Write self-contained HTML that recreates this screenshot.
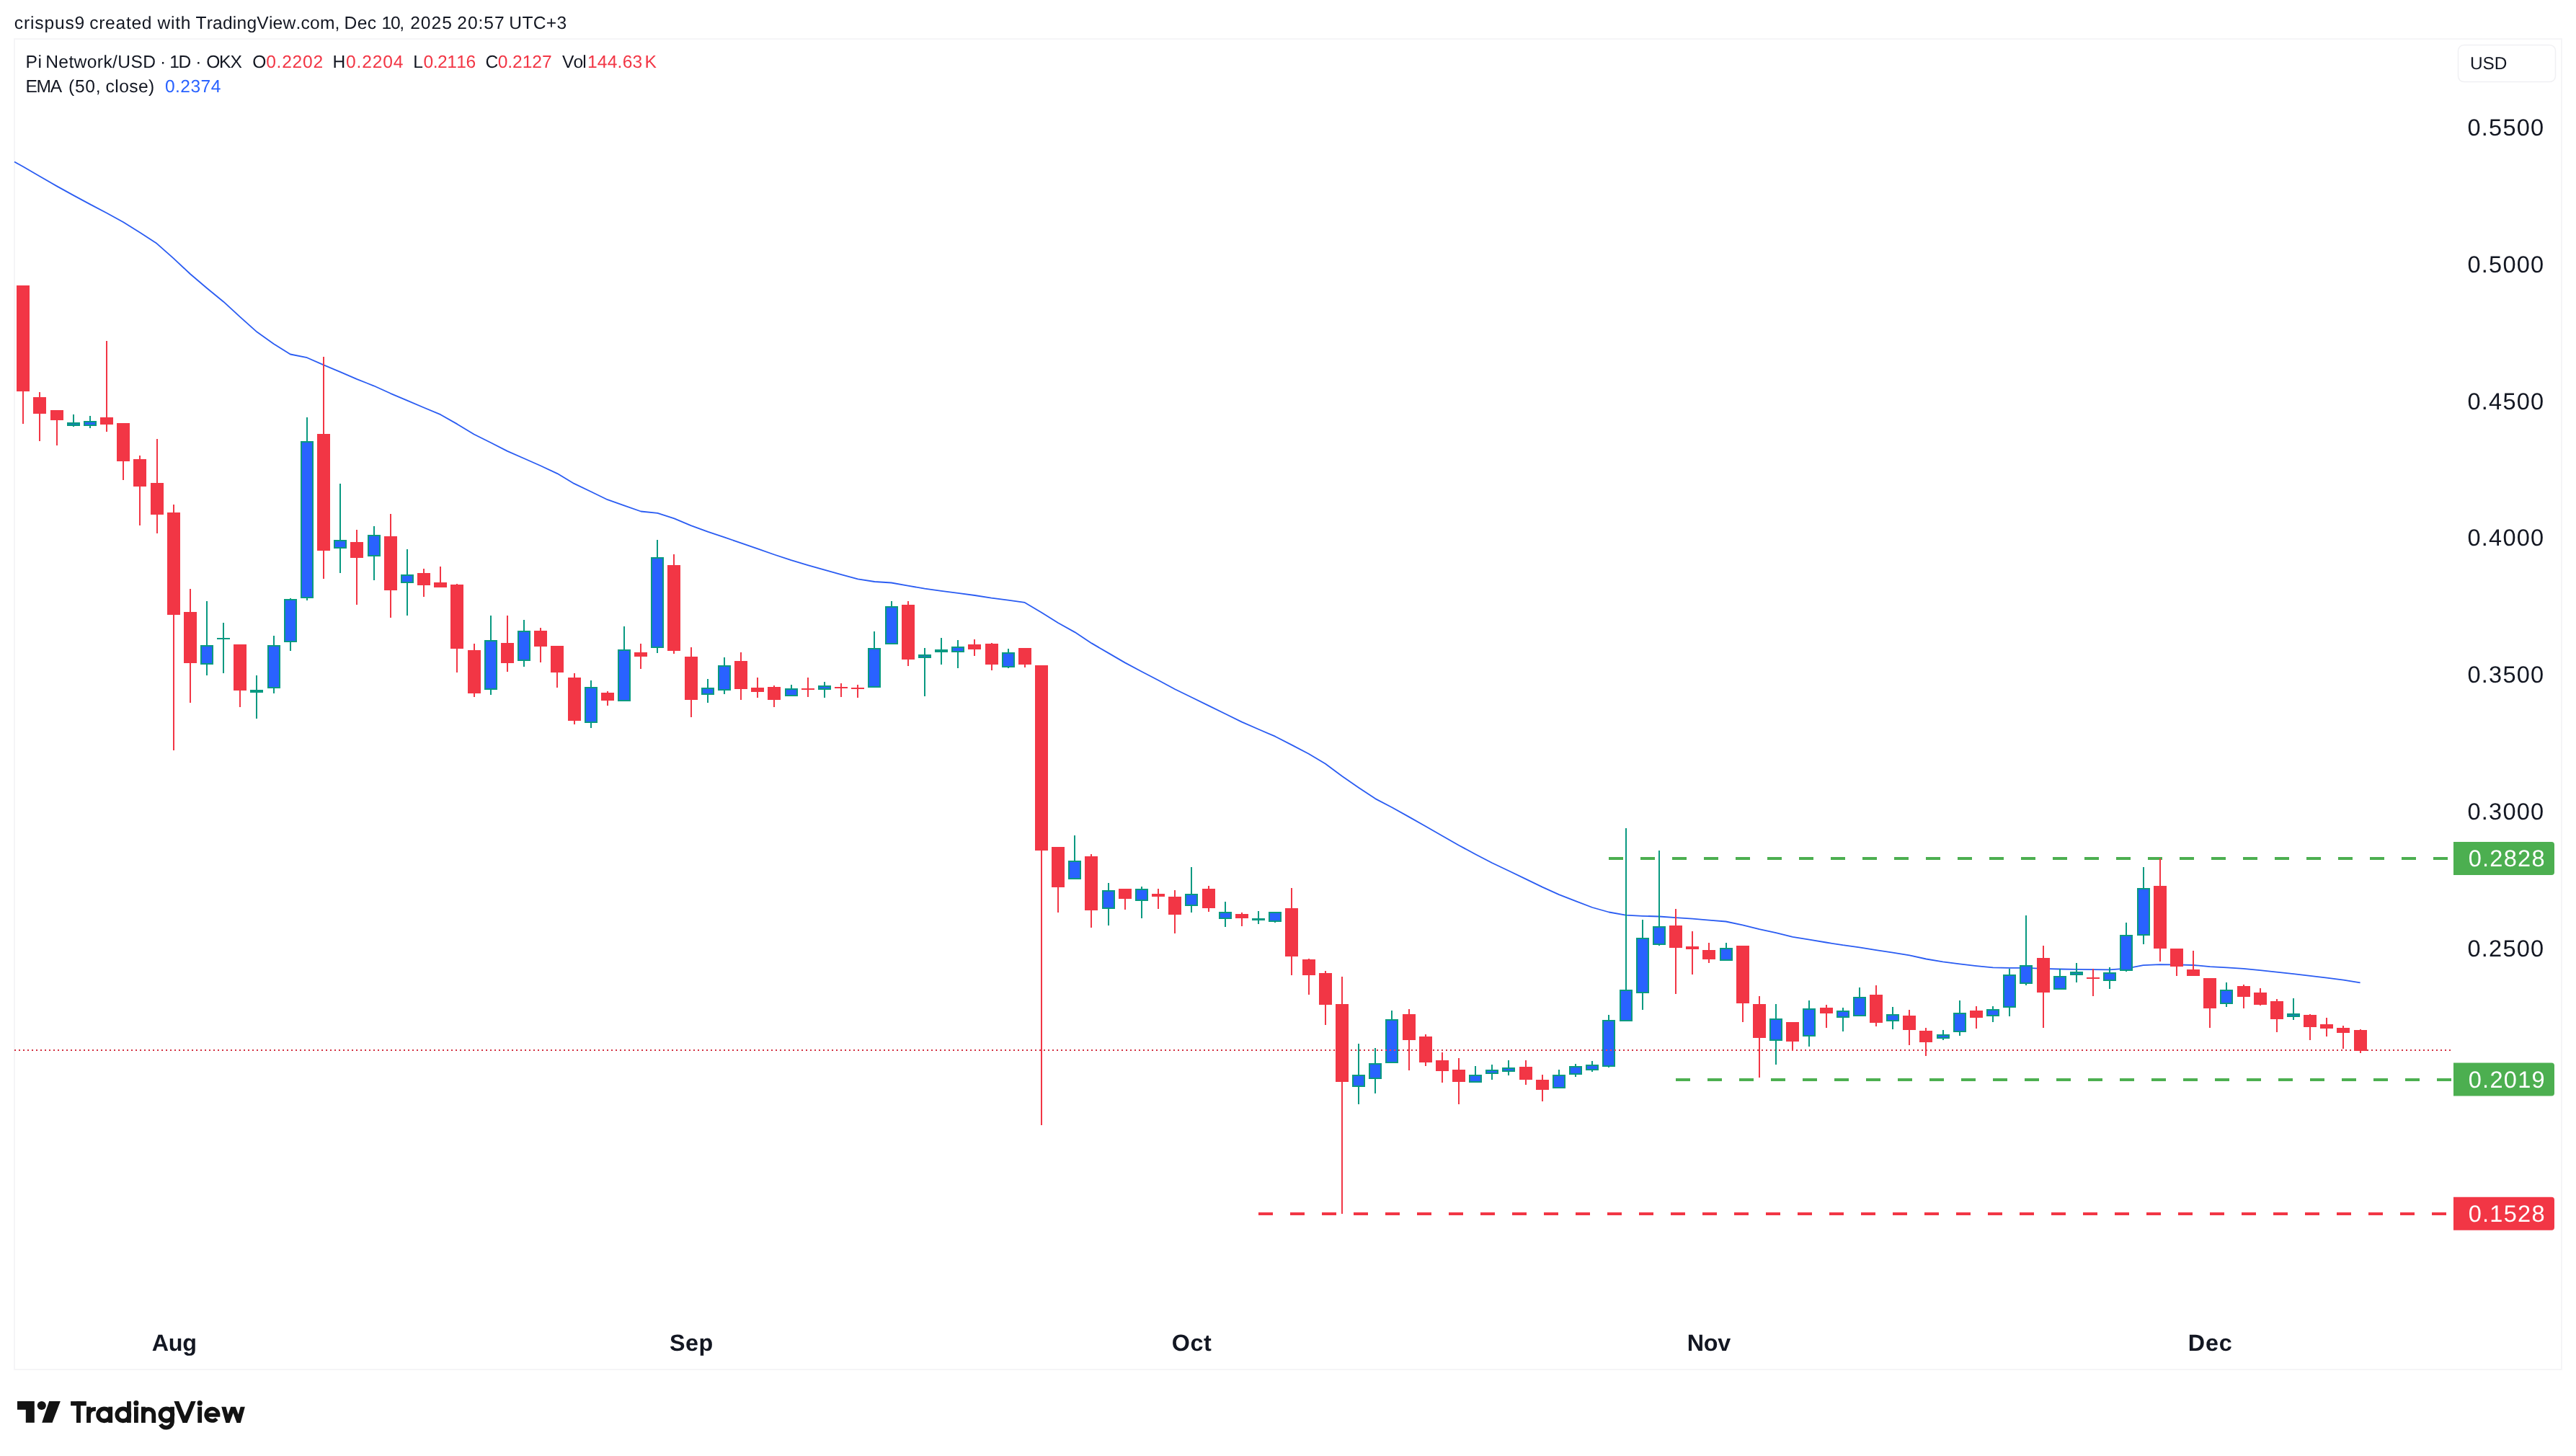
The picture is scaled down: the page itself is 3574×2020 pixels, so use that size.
<!DOCTYPE html>
<html><head><meta charset="utf-8"><title>Pi Network/USD chart</title>
<style>
html,body{margin:0;padding:0;background:#fff;}
body{width:3574px;height:2020px;overflow:hidden;}
svg{display:block;will-change:transform;font-family:"Liberation Sans",sans-serif;font-kerning:none;}
text{white-space:pre;}
.t{opacity:0.999;}
</style></head><body>
<svg width="3574" height="2020" viewBox="0 0 3574 2020" text-rendering="geometricPrecision">
<rect width="3574" height="2020" fill="#ffffff"/>
<rect x="20" y="54" width="3534" height="1846" fill="none" stroke="#f5f5f7" stroke-width="2"/>
<text x="19.85" y="39.70" font-size="24.6" font-weight="400" fill="#131722" letter-spacing="0.830">crispus9</text>
<text x="124.15" y="39.70" font-size="24.6" font-weight="400" fill="#131722" letter-spacing="0.730">created</text>
<text x="218.54" y="39.70" font-size="24.6" font-weight="400" fill="#131722" letter-spacing="0.705">with</text>
<text x="271.45" y="39.70" font-size="24.6" font-weight="400" fill="#131722" letter-spacing="0.213">TradingView.com,</text>
<text x="477.58" y="39.70" font-size="24.6" font-weight="400" fill="#131722" letter-spacing="0.410">Dec</text>
<text x="529.43" y="39.70" font-size="24.6" font-weight="400" fill="#131722" letter-spacing="-1.207">10,</text>
<text x="569.16" y="39.70" font-size="24.6" font-weight="400" fill="#131722" letter-spacing="0.982">2025</text>
<text x="634.36" y="39.70" font-size="24.6" font-weight="400" fill="#131722" letter-spacing="0.929">20:57</text>
<text x="706.30" y="39.70" font-size="24.6" font-weight="400" fill="#131722" letter-spacing="0.319">UTC+3</text>
<text x="35.48" y="94.20" font-size="24.6" font-weight="400" fill="#131722" letter-spacing="0.602">Pi</text>
<text x="63.18" y="94.20" font-size="24.6" font-weight="400" fill="#131722" letter-spacing="0.390">Network/USD</text>
<text x="222.08" y="94.20" font-size="24.6" font-weight="400" fill="#131722" letter-spacing="0.000">·</text>
<text x="235.33" y="94.20" font-size="24.6" font-weight="400" fill="#131722" letter-spacing="-1.496">1D</text>
<text x="271.28" y="94.20" font-size="24.6" font-weight="400" fill="#131722" letter-spacing="0.000">·</text>
<text x="286.13" y="94.20" font-size="24.6" font-weight="400" fill="#131722" letter-spacing="-1.135">OKX</text>
<text x="350.23" y="94.20" font-size="24.6" font-weight="400" fill="#131722" letter-spacing="0.000">O</text>
<text x="369.14" y="94.20" font-size="24.6" font-weight="400" fill="#f23645" letter-spacing="0.751">0.2202</text>
<text x="461.48" y="94.20" font-size="24.6" font-weight="400" fill="#131722" letter-spacing="0.000">H</text>
<text x="479.94" y="94.20" font-size="24.6" font-weight="400" fill="#f23645" letter-spacing="0.848">0.2204</text>
<text x="573.28" y="94.20" font-size="24.6" font-weight="400" fill="#131722" letter-spacing="0.000">L</text>
<text x="587.54" y="94.20" font-size="24.6" font-weight="400" fill="#f23645" letter-spacing="-0.520">0.2116</text>
<text x="673.45" y="94.20" font-size="24.6" font-weight="400" fill="#131722" letter-spacing="0.000">C</text>
<text x="690.74" y="94.20" font-size="24.6" font-weight="400" fill="#f23645" letter-spacing="-0.069">0.2127</text>
<text x="779.89" y="94.20" font-size="24.6" font-weight="400" fill="#131722" letter-spacing="-0.850">Vol</text>
<text x="814.93" y="94.20" font-size="24.6" font-weight="400" fill="#f23645" letter-spacing="0.223">144.63</text>
<text x="894.48" y="94.20" font-size="24.6" font-weight="400" fill="#f23645" letter-spacing="0.000">K</text>
<text x="35.48" y="128.10" font-size="24.6" font-weight="400" fill="#131722" letter-spacing="-1.321">EMA</text>
<text x="94.97" y="128.10" font-size="24.6" font-weight="400" fill="#131722" letter-spacing="0.749">(50,</text>
<text x="146.55" y="128.10" font-size="24.6" font-weight="400" fill="#131722" letter-spacing="0.430">close)</text>
<text x="228.94" y="128.10" font-size="24.6" font-weight="400" fill="#2962ff" letter-spacing="0.448">0.2374</text>
<rect x="3410.5" y="62.5" width="135" height="51" rx="8" fill="none" stroke="#f0f0f3" stroke-width="1.5"/>
<text x="3427.02" y="95.90" font-size="24.4" font-weight="400" fill="#131722" letter-spacing="-0.033">USD</text>
<text x="3423.43" y="188.15" font-size="32.6" font-weight="400" fill="#131722" letter-spacing="1.227">0.5500</text>
<text x="3423.43" y="377.90" font-size="32.6" font-weight="400" fill="#131722" letter-spacing="1.227">0.5000</text>
<text x="3423.43" y="567.65" font-size="32.6" font-weight="400" fill="#131722" letter-spacing="1.227">0.4500</text>
<text x="3423.43" y="757.40" font-size="32.6" font-weight="400" fill="#131722" letter-spacing="1.227">0.4000</text>
<text x="3423.43" y="947.15" font-size="32.6" font-weight="400" fill="#131722" letter-spacing="1.227">0.3500</text>
<text x="3423.43" y="1136.90" font-size="32.6" font-weight="400" fill="#131722" letter-spacing="1.227">0.3000</text>
<text x="3423.43" y="1326.65" font-size="32.6" font-weight="400" fill="#131722" letter-spacing="1.227">0.2500</text>
<line x1="2232" y1="1191" x2="3404" y2="1191" stroke="#4caf50" stroke-width="4" stroke-dasharray="20 24"/>
<line x1="2325" y1="1498" x2="3404" y2="1498" stroke="#4caf50" stroke-width="4" stroke-dasharray="20 24"/>
<line x1="1746" y1="1684" x2="3404" y2="1684" stroke="#f23645" stroke-width="4" stroke-dasharray="20 24"/>
<line x1="20" y1="1457" x2="3400" y2="1457" stroke="#d33041" stroke-width="2" stroke-dasharray="2 4" shape-rendering="crispEdges"/>
<polyline points="20.0,224.5 32.2,231.3 55.4,244.8 78.6,258.1 101.7,270.9 124.9,283.4 148.0,295.5 171.2,308.3 194.4,322.8 217.5,337.8 240.7,358.4 263.8,380.0 287.0,399.7 310.2,418.7 333.3,439.8 356.5,460.6 379.6,477.0 402.8,491.5 426.0,496.2 449.1,506.4 472.3,516.1 495.4,526.1 518.6,535.3 541.8,545.8 564.9,555.6 588.1,565.5 611.2,575.2 634.4,588.4 657.6,602.5 680.7,614.0 703.9,625.9 727.0,636.0 750.2,646.3 773.4,657.1 796.5,670.9 819.7,682.0 842.8,693.2 866.0,701.4 889.2,709.5 912.3,711.9 935.5,719.3 958.6,729.2 981.8,737.7 1005.0,745.4 1028.1,753.4 1051.3,761.4 1074.4,769.5 1097.6,777.1 1120.8,784.1 1143.9,790.6 1167.1,797.1 1190.2,803.4 1213.4,807.0 1236.6,808.5 1259.7,812.7 1282.9,816.6 1306.0,819.8 1329.2,822.9 1352.4,826.0 1375.5,829.6 1398.7,832.6 1421.8,835.9 1445.0,849.7 1468.2,864.3 1491.3,877.1 1514.5,892.4 1537.6,905.9 1560.8,919.4 1584.0,931.7 1607.1,943.8 1630.3,956.3 1653.4,967.5 1676.6,978.9 1699.8,990.3 1722.9,1001.6 1746.1,1011.8 1769.2,1021.7 1792.4,1033.6 1815.6,1045.8 1838.7,1059.5 1861.9,1076.7 1885.0,1092.7 1908.2,1108.1 1931.4,1120.2 1954.5,1133.1 1977.7,1146.3 2000.8,1159.5 2024.0,1172.8 2047.2,1185.2 2070.3,1197.3 2093.5,1208.3 2116.6,1219.4 2139.8,1230.6 2163.0,1241.1 2186.1,1250.2 2209.3,1259.0 2232.4,1265.5 2255.6,1269.7 2278.8,1270.8 2301.9,1271.5 2325.1,1273.1 2348.2,1274.7 2371.4,1276.7 2394.6,1278.5 2417.7,1283.4 2440.9,1289.1 2464.0,1294.2 2487.2,1299.9 2510.4,1303.7 2533.5,1307.5 2556.7,1311.2 2579.8,1314.3 2603.0,1318.1 2626.2,1321.6 2649.3,1325.4 2672.5,1330.5 2695.6,1334.3 2718.8,1337.4 2742.0,1340.1 2765.1,1342.4 2788.3,1342.8 2811.4,1342.9 2834.6,1343.9 2857.8,1344.5 2880.9,1344.8 2904.1,1345.2 2927.2,1345.3 2950.4,1343.6 2973.6,1339.2 2996.7,1338.1 3019.9,1338.4 3043.0,1339.0 3066.2,1341.1 3089.4,1342.3 3112.5,1343.9 3135.7,1346.1 3158.8,1348.7 3182.0,1351.1 3205.2,1353.9 3228.3,1356.7 3251.5,1359.6 3274.6,1363.4" fill="none" stroke="#2a5cf2" stroke-width="1.8" stroke-linejoin="round" shape-rendering="geometricPrecision"/>
<g shape-rendering="crispEdges"><rect x="31" y="396" width="2" height="192" fill="#f23645"/>
<rect x="23" y="396" width="18" height="147" fill="#f23645"/>
<rect x="54" y="544" width="2" height="68" fill="#f23645"/>
<rect x="46" y="551" width="18" height="23" fill="#f23645"/>
<rect x="78" y="569" width="2" height="49" fill="#f23645"/>
<rect x="70" y="569" width="18" height="14" fill="#f23645"/>
<rect x="101" y="575" width="2" height="17" fill="#089981"/>
<rect x="93" y="586" width="18" height="5" fill="#089981"/>
<rect x="95" y="588" width="14" height="1" fill="#2962ff" opacity="0.55"/>
<rect x="124" y="577" width="2" height="17" fill="#089981"/>
<rect x="116" y="584" width="18" height="7" fill="#089981"/>
<rect x="118" y="586" width="14" height="3" fill="#2962ff"/>
<rect x="147" y="473" width="2" height="126" fill="#f23645"/>
<rect x="139" y="579" width="18" height="10" fill="#f23645"/>
<rect x="170" y="587" width="2" height="79" fill="#f23645"/>
<rect x="162" y="587" width="18" height="53" fill="#f23645"/>
<rect x="193" y="632" width="2" height="97" fill="#f23645"/>
<rect x="185" y="637" width="18" height="38" fill="#f23645"/>
<rect x="217" y="609" width="2" height="131" fill="#f23645"/>
<rect x="209" y="670" width="18" height="44" fill="#f23645"/>
<rect x="240" y="700" width="2" height="341" fill="#f23645"/>
<rect x="232" y="711" width="18" height="142" fill="#f23645"/>
<rect x="263" y="817" width="2" height="158" fill="#f23645"/>
<rect x="255" y="849" width="18" height="71" fill="#f23645"/>
<rect x="286" y="834" width="2" height="103" fill="#089981"/>
<rect x="278" y="895" width="18" height="27" fill="#089981"/>
<rect x="280" y="897" width="14" height="23" fill="#2962ff"/>
<rect x="309" y="864" width="2" height="70" fill="#089981"/>
<rect x="301" y="885" width="18" height="2" fill="#089981"/>
<rect x="332" y="894" width="2" height="87" fill="#f23645"/>
<rect x="324" y="894" width="18" height="64" fill="#f23645"/>
<rect x="355" y="937" width="2" height="60" fill="#089981"/>
<rect x="347" y="957" width="18" height="4" fill="#089981"/>
<rect x="379" y="882" width="2" height="80" fill="#089981"/>
<rect x="371" y="895" width="18" height="60" fill="#089981"/>
<rect x="373" y="897" width="14" height="56" fill="#2962ff"/>
<rect x="402" y="830" width="2" height="73" fill="#089981"/>
<rect x="394" y="831" width="18" height="60" fill="#089981"/>
<rect x="396" y="833" width="14" height="56" fill="#2962ff"/>
<rect x="425" y="579" width="2" height="254" fill="#089981"/>
<rect x="417" y="612" width="18" height="218" fill="#089981"/>
<rect x="419" y="614" width="14" height="214" fill="#2962ff"/>
<rect x="448" y="495" width="2" height="308" fill="#f23645"/>
<rect x="440" y="602" width="18" height="162" fill="#f23645"/>
<rect x="471" y="671" width="2" height="124" fill="#089981"/>
<rect x="463" y="749" width="18" height="12" fill="#089981"/>
<rect x="465" y="751" width="14" height="8" fill="#2962ff"/>
<rect x="494" y="735" width="2" height="104" fill="#f23645"/>
<rect x="486" y="752" width="18" height="22" fill="#f23645"/>
<rect x="518" y="730" width="2" height="75" fill="#089981"/>
<rect x="510" y="742" width="18" height="30" fill="#089981"/>
<rect x="512" y="744" width="14" height="26" fill="#2962ff"/>
<rect x="541" y="713" width="2" height="144" fill="#f23645"/>
<rect x="533" y="744" width="18" height="75" fill="#f23645"/>
<rect x="564" y="762" width="2" height="92" fill="#089981"/>
<rect x="556" y="797" width="18" height="12" fill="#089981"/>
<rect x="558" y="799" width="14" height="8" fill="#2962ff"/>
<rect x="587" y="789" width="2" height="39" fill="#f23645"/>
<rect x="579" y="795" width="18" height="17" fill="#f23645"/>
<rect x="610" y="786" width="2" height="29" fill="#f23645"/>
<rect x="602" y="808" width="18" height="7" fill="#f23645"/>
<rect x="633" y="810" width="2" height="123" fill="#f23645"/>
<rect x="625" y="811" width="18" height="89" fill="#f23645"/>
<rect x="657" y="893" width="2" height="74" fill="#f23645"/>
<rect x="649" y="902" width="18" height="60" fill="#f23645"/>
<rect x="680" y="854" width="2" height="110" fill="#089981"/>
<rect x="672" y="888" width="18" height="69" fill="#089981"/>
<rect x="674" y="890" width="14" height="65" fill="#2962ff"/>
<rect x="703" y="854" width="2" height="78" fill="#f23645"/>
<rect x="695" y="892" width="18" height="28" fill="#f23645"/>
<rect x="726" y="860" width="2" height="65" fill="#089981"/>
<rect x="718" y="875" width="18" height="42" fill="#089981"/>
<rect x="720" y="877" width="14" height="38" fill="#2962ff"/>
<rect x="749" y="871" width="2" height="48" fill="#f23645"/>
<rect x="741" y="875" width="18" height="22" fill="#f23645"/>
<rect x="772" y="896" width="2" height="58" fill="#f23645"/>
<rect x="764" y="896" width="18" height="37" fill="#f23645"/>
<rect x="796" y="934" width="2" height="71" fill="#f23645"/>
<rect x="788" y="940" width="18" height="60" fill="#f23645"/>
<rect x="819" y="944" width="2" height="66" fill="#089981"/>
<rect x="811" y="953" width="18" height="50" fill="#089981"/>
<rect x="813" y="955" width="14" height="46" fill="#2962ff"/>
<rect x="842" y="959" width="2" height="20" fill="#f23645"/>
<rect x="834" y="961" width="18" height="11" fill="#f23645"/>
<rect x="865" y="869" width="2" height="104" fill="#089981"/>
<rect x="857" y="901" width="18" height="72" fill="#089981"/>
<rect x="859" y="903" width="14" height="68" fill="#2962ff"/>
<rect x="888" y="893" width="2" height="35" fill="#f23645"/>
<rect x="880" y="905" width="18" height="6" fill="#f23645"/>
<rect x="911" y="749" width="2" height="157" fill="#089981"/>
<rect x="903" y="773" width="18" height="126" fill="#089981"/>
<rect x="905" y="775" width="14" height="122" fill="#2962ff"/>
<rect x="934" y="769" width="2" height="138" fill="#f23645"/>
<rect x="926" y="784" width="18" height="119" fill="#f23645"/>
<rect x="958" y="898" width="2" height="97" fill="#f23645"/>
<rect x="950" y="911" width="18" height="60" fill="#f23645"/>
<rect x="981" y="942" width="2" height="33" fill="#089981"/>
<rect x="973" y="954" width="18" height="10" fill="#089981"/>
<rect x="975" y="956" width="14" height="6" fill="#2962ff"/>
<rect x="1004" y="912" width="2" height="51" fill="#089981"/>
<rect x="996" y="923" width="18" height="35" fill="#089981"/>
<rect x="998" y="925" width="14" height="31" fill="#2962ff"/>
<rect x="1027" y="905" width="2" height="66" fill="#f23645"/>
<rect x="1019" y="917" width="18" height="39" fill="#f23645"/>
<rect x="1050" y="940" width="2" height="28" fill="#f23645"/>
<rect x="1042" y="954" width="18" height="6" fill="#f23645"/>
<rect x="1073" y="951" width="2" height="30" fill="#f23645"/>
<rect x="1065" y="953" width="18" height="18" fill="#f23645"/>
<rect x="1097" y="950" width="2" height="16" fill="#089981"/>
<rect x="1089" y="955" width="18" height="11" fill="#089981"/>
<rect x="1091" y="957" width="14" height="7" fill="#2962ff"/>
<rect x="1120" y="940" width="2" height="27" fill="#f23645"/>
<rect x="1112" y="955" width="18" height="2" fill="#f23645"/>
<rect x="1143" y="946" width="2" height="22" fill="#089981"/>
<rect x="1135" y="951" width="18" height="6" fill="#089981"/>
<rect x="1137" y="953" width="14" height="2" fill="#2962ff"/>
<rect x="1166" y="948" width="2" height="19" fill="#f23645"/>
<rect x="1158" y="953" width="18" height="2" fill="#f23645"/>
<rect x="1189" y="950" width="2" height="18" fill="#f23645"/>
<rect x="1181" y="954" width="18" height="2" fill="#f23645"/>
<rect x="1212" y="876" width="2" height="78" fill="#089981"/>
<rect x="1204" y="899" width="18" height="55" fill="#089981"/>
<rect x="1206" y="901" width="14" height="51" fill="#2962ff"/>
<rect x="1236" y="834" width="2" height="60" fill="#089981"/>
<rect x="1228" y="841" width="18" height="53" fill="#089981"/>
<rect x="1230" y="843" width="14" height="49" fill="#2962ff"/>
<rect x="1259" y="834" width="2" height="90" fill="#f23645"/>
<rect x="1251" y="839" width="18" height="76" fill="#f23645"/>
<rect x="1282" y="899" width="2" height="67" fill="#089981"/>
<rect x="1274" y="908" width="18" height="5" fill="#089981"/>
<rect x="1276" y="910" width="14" height="1" fill="#2962ff" opacity="0.55"/>
<rect x="1305" y="885" width="2" height="37" fill="#089981"/>
<rect x="1297" y="901" width="18" height="4" fill="#089981"/>
<rect x="1328" y="888" width="2" height="39" fill="#089981"/>
<rect x="1320" y="897" width="18" height="8" fill="#089981"/>
<rect x="1322" y="899" width="14" height="4" fill="#2962ff"/>
<rect x="1351" y="887" width="2" height="23" fill="#f23645"/>
<rect x="1343" y="894" width="18" height="7" fill="#f23645"/>
<rect x="1375" y="892" width="2" height="38" fill="#f23645"/>
<rect x="1367" y="893" width="18" height="29" fill="#f23645"/>
<rect x="1398" y="900" width="2" height="27" fill="#089981"/>
<rect x="1390" y="905" width="18" height="21" fill="#089981"/>
<rect x="1392" y="907" width="14" height="17" fill="#2962ff"/>
<rect x="1421" y="899" width="2" height="27" fill="#f23645"/>
<rect x="1413" y="899" width="18" height="23" fill="#f23645"/>
<rect x="1444" y="923" width="2" height="638" fill="#f23645"/>
<rect x="1436" y="923" width="18" height="257" fill="#f23645"/>
<rect x="1467" y="1175" width="2" height="91" fill="#f23645"/>
<rect x="1459" y="1175" width="18" height="56" fill="#f23645"/>
<rect x="1490" y="1159" width="2" height="61" fill="#089981"/>
<rect x="1482" y="1194" width="18" height="26" fill="#089981"/>
<rect x="1484" y="1196" width="14" height="22" fill="#2962ff"/>
<rect x="1513" y="1185" width="2" height="102" fill="#f23645"/>
<rect x="1505" y="1188" width="18" height="75" fill="#f23645"/>
<rect x="1537" y="1225" width="2" height="59" fill="#089981"/>
<rect x="1529" y="1235" width="18" height="26" fill="#089981"/>
<rect x="1531" y="1237" width="14" height="22" fill="#2962ff"/>
<rect x="1560" y="1233" width="2" height="29" fill="#f23645"/>
<rect x="1552" y="1233" width="18" height="14" fill="#f23645"/>
<rect x="1583" y="1230" width="2" height="44" fill="#089981"/>
<rect x="1575" y="1233" width="18" height="17" fill="#089981"/>
<rect x="1577" y="1235" width="14" height="13" fill="#2962ff"/>
<rect x="1606" y="1233" width="2" height="28" fill="#f23645"/>
<rect x="1598" y="1240" width="18" height="4" fill="#f23645"/>
<rect x="1629" y="1235" width="2" height="60" fill="#f23645"/>
<rect x="1621" y="1244" width="18" height="25" fill="#f23645"/>
<rect x="1652" y="1203" width="2" height="63" fill="#089981"/>
<rect x="1644" y="1240" width="18" height="17" fill="#089981"/>
<rect x="1646" y="1242" width="14" height="13" fill="#2962ff"/>
<rect x="1676" y="1229" width="2" height="36" fill="#f23645"/>
<rect x="1668" y="1233" width="18" height="27" fill="#f23645"/>
<rect x="1699" y="1251" width="2" height="35" fill="#089981"/>
<rect x="1691" y="1265" width="18" height="10" fill="#089981"/>
<rect x="1693" y="1267" width="14" height="6" fill="#2962ff"/>
<rect x="1722" y="1266" width="2" height="19" fill="#f23645"/>
<rect x="1714" y="1268" width="18" height="6" fill="#f23645"/>
<rect x="1745" y="1264" width="2" height="18" fill="#089981"/>
<rect x="1737" y="1274" width="18" height="3" fill="#089981"/>
<rect x="1768" y="1265" width="2" height="15" fill="#089981"/>
<rect x="1760" y="1265" width="18" height="14" fill="#089981"/>
<rect x="1762" y="1267" width="14" height="10" fill="#2962ff"/>
<rect x="1791" y="1232" width="2" height="121" fill="#f23645"/>
<rect x="1783" y="1260" width="18" height="67" fill="#f23645"/>
<rect x="1815" y="1330" width="2" height="50" fill="#f23645"/>
<rect x="1807" y="1331" width="18" height="22" fill="#f23645"/>
<rect x="1838" y="1347" width="2" height="75" fill="#f23645"/>
<rect x="1830" y="1350" width="18" height="44" fill="#f23645"/>
<rect x="1861" y="1355" width="2" height="329" fill="#f23645"/>
<rect x="1853" y="1393" width="18" height="108" fill="#f23645"/>
<rect x="1884" y="1448" width="2" height="84" fill="#089981"/>
<rect x="1876" y="1491" width="18" height="17" fill="#089981"/>
<rect x="1878" y="1493" width="14" height="13" fill="#2962ff"/>
<rect x="1907" y="1454" width="2" height="63" fill="#089981"/>
<rect x="1899" y="1475" width="18" height="22" fill="#089981"/>
<rect x="1901" y="1477" width="14" height="18" fill="#2962ff"/>
<rect x="1930" y="1402" width="2" height="73" fill="#089981"/>
<rect x="1922" y="1414" width="18" height="61" fill="#089981"/>
<rect x="1924" y="1416" width="14" height="57" fill="#2962ff"/>
<rect x="1954" y="1400" width="2" height="85" fill="#f23645"/>
<rect x="1946" y="1407" width="18" height="36" fill="#f23645"/>
<rect x="1977" y="1435" width="2" height="44" fill="#f23645"/>
<rect x="1969" y="1438" width="18" height="36" fill="#f23645"/>
<rect x="2000" y="1460" width="2" height="42" fill="#f23645"/>
<rect x="1992" y="1471" width="18" height="15" fill="#f23645"/>
<rect x="2023" y="1468" width="2" height="64" fill="#f23645"/>
<rect x="2015" y="1484" width="18" height="17" fill="#f23645"/>
<rect x="2046" y="1479" width="2" height="23" fill="#089981"/>
<rect x="2038" y="1491" width="18" height="11" fill="#089981"/>
<rect x="2040" y="1493" width="14" height="7" fill="#2962ff"/>
<rect x="2069" y="1477" width="2" height="21" fill="#089981"/>
<rect x="2061" y="1484" width="18" height="6" fill="#089981"/>
<rect x="2063" y="1486" width="14" height="2" fill="#2962ff"/>
<rect x="2092" y="1471" width="2" height="21" fill="#089981"/>
<rect x="2084" y="1481" width="18" height="6" fill="#089981"/>
<rect x="2086" y="1483" width="14" height="2" fill="#2962ff"/>
<rect x="2116" y="1471" width="2" height="34" fill="#f23645"/>
<rect x="2108" y="1480" width="18" height="18" fill="#f23645"/>
<rect x="2139" y="1491" width="2" height="37" fill="#f23645"/>
<rect x="2131" y="1498" width="18" height="14" fill="#f23645"/>
<rect x="2162" y="1484" width="2" height="26" fill="#089981"/>
<rect x="2154" y="1491" width="18" height="19" fill="#089981"/>
<rect x="2156" y="1493" width="14" height="15" fill="#2962ff"/>
<rect x="2185" y="1476" width="2" height="18" fill="#089981"/>
<rect x="2177" y="1479" width="18" height="12" fill="#089981"/>
<rect x="2179" y="1481" width="14" height="8" fill="#2962ff"/>
<rect x="2208" y="1472" width="2" height="15" fill="#089981"/>
<rect x="2200" y="1477" width="18" height="8" fill="#089981"/>
<rect x="2202" y="1479" width="14" height="4" fill="#2962ff"/>
<rect x="2231" y="1408" width="2" height="73" fill="#089981"/>
<rect x="2223" y="1415" width="18" height="65" fill="#089981"/>
<rect x="2225" y="1417" width="14" height="61" fill="#2962ff"/>
<rect x="2255" y="1149" width="2" height="268" fill="#089981"/>
<rect x="2247" y="1373" width="18" height="44" fill="#089981"/>
<rect x="2249" y="1375" width="14" height="40" fill="#2962ff"/>
<rect x="2278" y="1276" width="2" height="125" fill="#089981"/>
<rect x="2270" y="1301" width="18" height="77" fill="#089981"/>
<rect x="2272" y="1303" width="14" height="73" fill="#2962ff"/>
<rect x="2301" y="1180" width="2" height="132" fill="#089981"/>
<rect x="2293" y="1285" width="18" height="26" fill="#089981"/>
<rect x="2295" y="1287" width="14" height="22" fill="#2962ff"/>
<rect x="2324" y="1261" width="2" height="118" fill="#f23645"/>
<rect x="2316" y="1284" width="18" height="31" fill="#f23645"/>
<rect x="2347" y="1292" width="2" height="60" fill="#f23645"/>
<rect x="2339" y="1313" width="18" height="4" fill="#f23645"/>
<rect x="2370" y="1308" width="2" height="28" fill="#f23645"/>
<rect x="2362" y="1318" width="18" height="13" fill="#f23645"/>
<rect x="2394" y="1308" width="2" height="25" fill="#089981"/>
<rect x="2386" y="1315" width="18" height="18" fill="#089981"/>
<rect x="2388" y="1317" width="14" height="14" fill="#2962ff"/>
<rect x="2417" y="1312" width="2" height="106" fill="#f23645"/>
<rect x="2409" y="1312" width="18" height="80" fill="#f23645"/>
<rect x="2440" y="1382" width="2" height="113" fill="#f23645"/>
<rect x="2432" y="1393" width="18" height="47" fill="#f23645"/>
<rect x="2463" y="1393" width="2" height="84" fill="#089981"/>
<rect x="2455" y="1413" width="18" height="31" fill="#089981"/>
<rect x="2457" y="1415" width="14" height="27" fill="#2962ff"/>
<rect x="2486" y="1418" width="2" height="40" fill="#f23645"/>
<rect x="2478" y="1418" width="18" height="27" fill="#f23645"/>
<rect x="2509" y="1388" width="2" height="64" fill="#089981"/>
<rect x="2501" y="1399" width="18" height="39" fill="#089981"/>
<rect x="2503" y="1401" width="14" height="35" fill="#2962ff"/>
<rect x="2533" y="1394" width="2" height="32" fill="#f23645"/>
<rect x="2525" y="1398" width="18" height="8" fill="#f23645"/>
<rect x="2556" y="1398" width="2" height="33" fill="#089981"/>
<rect x="2548" y="1402" width="18" height="10" fill="#089981"/>
<rect x="2550" y="1404" width="14" height="6" fill="#2962ff"/>
<rect x="2579" y="1370" width="2" height="40" fill="#089981"/>
<rect x="2571" y="1383" width="18" height="27" fill="#089981"/>
<rect x="2573" y="1385" width="14" height="23" fill="#2962ff"/>
<rect x="2602" y="1367" width="2" height="57" fill="#f23645"/>
<rect x="2594" y="1380" width="18" height="39" fill="#f23645"/>
<rect x="2625" y="1397" width="2" height="31" fill="#089981"/>
<rect x="2617" y="1407" width="18" height="10" fill="#089981"/>
<rect x="2619" y="1409" width="14" height="6" fill="#2962ff"/>
<rect x="2648" y="1401" width="2" height="49" fill="#f23645"/>
<rect x="2640" y="1409" width="18" height="20" fill="#f23645"/>
<rect x="2671" y="1426" width="2" height="39" fill="#f23645"/>
<rect x="2663" y="1430" width="18" height="16" fill="#f23645"/>
<rect x="2695" y="1429" width="2" height="14" fill="#089981"/>
<rect x="2687" y="1435" width="18" height="6" fill="#089981"/>
<rect x="2689" y="1437" width="14" height="2" fill="#2962ff"/>
<rect x="2718" y="1388" width="2" height="49" fill="#089981"/>
<rect x="2710" y="1405" width="18" height="27" fill="#089981"/>
<rect x="2712" y="1407" width="14" height="23" fill="#2962ff"/>
<rect x="2741" y="1396" width="2" height="31" fill="#f23645"/>
<rect x="2733" y="1402" width="18" height="10" fill="#f23645"/>
<rect x="2764" y="1396" width="2" height="22" fill="#089981"/>
<rect x="2756" y="1400" width="18" height="10" fill="#089981"/>
<rect x="2758" y="1402" width="14" height="6" fill="#2962ff"/>
<rect x="2787" y="1344" width="2" height="66" fill="#089981"/>
<rect x="2779" y="1352" width="18" height="46" fill="#089981"/>
<rect x="2781" y="1354" width="14" height="42" fill="#2962ff"/>
<rect x="2810" y="1270" width="2" height="97" fill="#089981"/>
<rect x="2802" y="1339" width="18" height="26" fill="#089981"/>
<rect x="2804" y="1341" width="14" height="22" fill="#2962ff"/>
<rect x="2834" y="1312" width="2" height="114" fill="#f23645"/>
<rect x="2826" y="1329" width="18" height="48" fill="#f23645"/>
<rect x="2857" y="1344" width="2" height="29" fill="#089981"/>
<rect x="2849" y="1354" width="18" height="19" fill="#089981"/>
<rect x="2851" y="1356" width="14" height="15" fill="#2962ff"/>
<rect x="2880" y="1336" width="2" height="27" fill="#089981"/>
<rect x="2872" y="1348" width="18" height="5" fill="#089981"/>
<rect x="2874" y="1350" width="14" height="1" fill="#2962ff" opacity="0.55"/>
<rect x="2903" y="1344" width="2" height="38" fill="#f23645"/>
<rect x="2895" y="1356" width="18" height="2" fill="#f23645"/>
<rect x="2926" y="1342" width="2" height="30" fill="#089981"/>
<rect x="2918" y="1349" width="18" height="12" fill="#089981"/>
<rect x="2920" y="1351" width="14" height="8" fill="#2962ff"/>
<rect x="2949" y="1280" width="2" height="68" fill="#089981"/>
<rect x="2941" y="1297" width="18" height="50" fill="#089981"/>
<rect x="2943" y="1299" width="14" height="46" fill="#2962ff"/>
<rect x="2973" y="1203" width="2" height="107" fill="#089981"/>
<rect x="2965" y="1232" width="18" height="66" fill="#089981"/>
<rect x="2967" y="1234" width="14" height="62" fill="#2962ff"/>
<rect x="2996" y="1191" width="2" height="143" fill="#f23645"/>
<rect x="2988" y="1229" width="18" height="87" fill="#f23645"/>
<rect x="3019" y="1316" width="2" height="38" fill="#f23645"/>
<rect x="3011" y="1316" width="18" height="25" fill="#f23645"/>
<rect x="3042" y="1319" width="2" height="35" fill="#f23645"/>
<rect x="3034" y="1345" width="18" height="9" fill="#f23645"/>
<rect x="3065" y="1357" width="2" height="69" fill="#f23645"/>
<rect x="3057" y="1357" width="18" height="42" fill="#f23645"/>
<rect x="3088" y="1363" width="2" height="34" fill="#089981"/>
<rect x="3080" y="1373" width="18" height="20" fill="#089981"/>
<rect x="3082" y="1375" width="14" height="16" fill="#2962ff"/>
<rect x="3112" y="1366" width="2" height="33" fill="#f23645"/>
<rect x="3104" y="1368" width="18" height="15" fill="#f23645"/>
<rect x="3135" y="1371" width="2" height="24" fill="#f23645"/>
<rect x="3127" y="1377" width="18" height="17" fill="#f23645"/>
<rect x="3158" y="1386" width="2" height="46" fill="#f23645"/>
<rect x="3150" y="1389" width="18" height="25" fill="#f23645"/>
<rect x="3181" y="1385" width="2" height="30" fill="#089981"/>
<rect x="3173" y="1406" width="18" height="5" fill="#089981"/>
<rect x="3175" y="1408" width="14" height="1" fill="#2962ff" opacity="0.55"/>
<rect x="3204" y="1407" width="2" height="36" fill="#f23645"/>
<rect x="3196" y="1408" width="18" height="17" fill="#f23645"/>
<rect x="3227" y="1412" width="2" height="26" fill="#f23645"/>
<rect x="3219" y="1421" width="18" height="6" fill="#f23645"/>
<rect x="3250" y="1423" width="2" height="32" fill="#f23645"/>
<rect x="3242" y="1426" width="18" height="7" fill="#f23645"/>
<rect x="3274" y="1428" width="2" height="33" fill="#f23645"/>
<rect x="3266" y="1429" width="18" height="29" fill="#f23645"/></g>
<g shape-rendering="crispEdges"><rect x="1922" y="1456" width="2" height="2" fill="#ea4058"/><rect x="1928" y="1456" width="2" height="2" fill="#ea4058"/><rect x="1934" y="1456" width="2" height="2" fill="#ea4058"/><rect x="2228" y="1456" width="2" height="2" fill="#ea4058"/><rect x="2234" y="1456" width="2" height="2" fill="#ea4058"/><rect x="2240" y="1456" width="2" height="2" fill="#ea4058"/></g>
<path d="M3404 1167.9 H3540 a4 4 0 0 1 4 4 V1209.9 a4 4 0 0 1 -4 4 H3404 Z" fill="#4caf50"/>
<text x="3424.73" y="1202.45" font-size="32.6" font-weight="400" fill="#ffffff" letter-spacing="1.236">0.2828</text>
<path d="M3404 1474.6 H3540 a4 4 0 0 1 4 4 V1516.6 a4 4 0 0 1 -4 4 H3404 Z" fill="#4caf50"/>
<text x="3424.73" y="1509.15" font-size="32.6" font-weight="400" fill="#ffffff" letter-spacing="1.261">0.2019</text>
<path d="M3404 1660.7 H3540 a4 4 0 0 1 4 4 V1702.7 a4 4 0 0 1 -4 4 H3404 Z" fill="#f23645"/>
<text x="3424.73" y="1695.25" font-size="32.6" font-weight="400" fill="#ffffff" letter-spacing="1.236">0.1528</text>
<text x="210.80" y="1873.90" font-size="32.3" font-weight="700" fill="#131722" letter-spacing="-0.311">Aug</text>
<text x="929.07" y="1873.90" font-size="32.3" font-weight="700" fill="#131722" letter-spacing="0.509">Sep</text>
<text x="1625.83" y="1873.90" font-size="32.3" font-weight="700" fill="#131722" letter-spacing="0.488">Oct</text>
<text x="2340.79" y="1873.90" font-size="32.3" font-weight="700" fill="#131722" letter-spacing="-0.309">Nov</text>
<text x="3035.74" y="1873.90" font-size="32.3" font-weight="700" fill="#131722" letter-spacing="0.827">Dec</text>
<g fill="#131313"><path d="M24 1944 H47.8 V1973.8 H35.8 V1955.8 H24 Z"/><circle cx="57.8" cy="1950" r="6.1"/><path d="M68.2 1944 H83.8 L72.5 1973.8 H58.2 Z"/><rect x="98.1" y="1944.1" width="21.7" height="6.1"/><rect x="106" y="1944.1" width="5.9" height="29.800000000000182"/><rect x="120.1" y="1951.7" width="5.8" height="22.200000000000045"/><path d="M123 1964 c0 -6.4 3.4 -9.3 9.9 -9.2" fill="none" stroke="#131313" stroke-width="5.8"/><circle cx="144.6" cy="1962.8000000000002" r="8.450000000000022" fill="none" stroke="#131313" stroke-width="5.8"/><rect x="150.3" y="1951.7" width="5.8" height="22.200000000000045"/><circle cx="170.8" cy="1962.8000000000002" r="8.450000000000022" fill="none" stroke="#131313" stroke-width="5.8"/><rect x="176" y="1944.1" width="5.8" height="29.800000000000182"/><rect x="186" y="1951.7" width="5.8" height="22.200000000000045"/><circle cx="188.9" cy="1946.7" r="3.6"/><rect x="196" y="1951.7" width="5.8" height="22.200000000000045"/><path d="M198.9 1962 a7.2 7.2 0 0 1 14.4 0 V1973.9" fill="none" stroke="#131313" stroke-width="5.8"/><circle cx="230.9" cy="1962.8000000000002" r="8.450000000000022" fill="none" stroke="#131313" stroke-width="5.8"/><path d="M239 1951.7 V1972.3 a8.3 8.3 0 0 1 -8.3 8.3 c-3.6 0 -6.3 -1.7 -8 -4.6" fill="none" stroke="#131313" stroke-width="5.8"/><path d="M241.4 1944.1 H248.2 L256.6 1964.8 L265 1944.1 H271.7 L259.7 1973.9 H253.5 Z"/><rect x="274.3" y="1951.7" width="5.8" height="22.200000000000045"/><circle cx="277.2" cy="1946.7" r="3.6"/><path d="M300.68 1968.45 A8.450000000000022 8.450000000000022 0 1 1 302.85 1963.10 H287" fill="none" stroke="#131313" stroke-width="5.2"/><clipPath id="cw"><rect x="300" y="1951.7" width="45" height="22.200000000000045"/></clipPath><path clip-path="url(#cw)" d="M309.6 1949 L316 1972.2 L323.55 1951.5 L331.1 1972.2 L337.5 1949" fill="none" stroke="#131313" stroke-width="6" stroke-linejoin="miter" stroke-miterlimit="10"/></g>
</svg>
</body></html>
